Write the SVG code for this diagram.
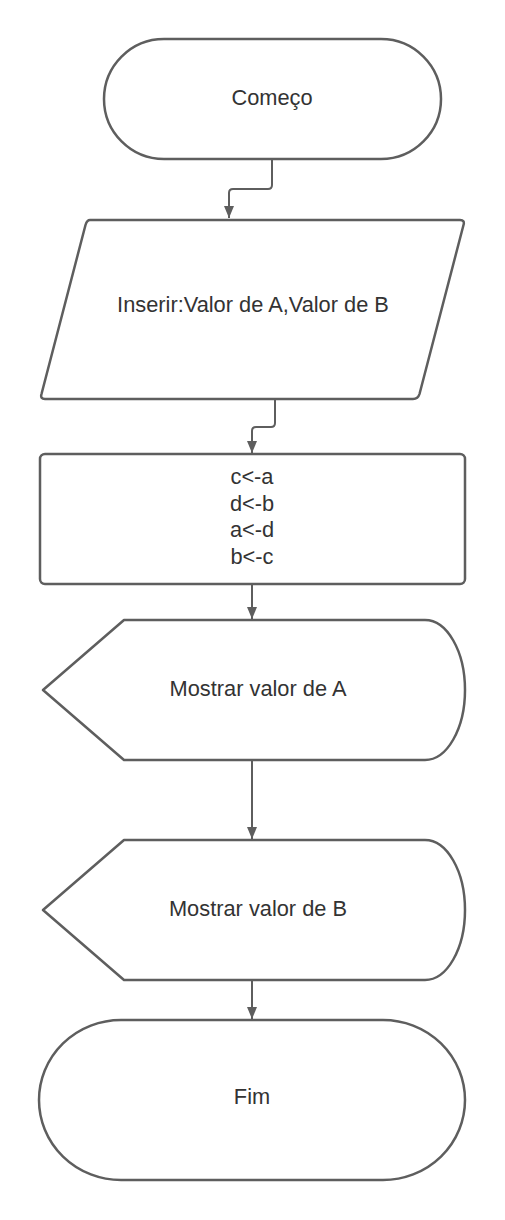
<svg xmlns="http://www.w3.org/2000/svg" width="505" height="1220" viewBox="0 0 505 1220">
<style>
.shape{fill:#ffffff;stroke:#5e5e5e;stroke-width:2.5;stroke-linejoin:round}
.edge{fill:none;stroke:#5e5e5e;stroke-width:2}
.lbl{font-family:"Liberation Sans",Arial,sans-serif;font-size:21.8px;fill:#333333;text-anchor:middle}
</style>
<defs>
<marker id="arr" viewBox="0 0 12 10" refX="12" refY="5" markerWidth="12" markerHeight="10" markerUnits="userSpaceOnUse" orient="auto">
<path d="M0,0 L12,5 L0,10 Z" fill="#5e5e5e"/>
</marker>
</defs>
<rect width="505" height="1220" fill="#ffffff"/>
<g id="connectors">
<path class="edge" d="M272,159 V185 Q272,189 268,189 H233 Q229,189 229,193 V218" marker-end="url(#arr)"/>
<path class="edge" d="M275,400 V423 Q275,427 271,427 H256 Q252,427 252,431 V453" marker-end="url(#arr)"/>
<path class="edge" d="M252,585 V619" marker-end="url(#arr)"/>
<path class="edge" d="M252,761 V839" marker-end="url(#arr)"/>
<path class="edge" d="M252,980 V1019" marker-end="url(#arr)"/>
</g>
<g id="inicio">
<rect class="shape" x="104" y="39" width="337" height="120" rx="60" ry="60"/>
<text class="lbl" x="272" y="105">Começo</text>
</g>
<g id="entrada">
<path class="shape" d="M90,220 H460 Q465,220 463.5,225 L419.5,394 Q418,399 413,399 H45 Q40,399 41.5,394 L85.5,225 Q87,220 90,220 Z"/>
<text class="lbl" x="253" y="312">Inserir:Valor de A,Valor de B</text>
</g>
<g id="processo">
<rect class="shape" x="40" y="454" width="425" height="130" rx="5" ry="5"/>
<text class="lbl" x="252" y="484">c&lt;-a</text>
<text class="lbl" x="252" y="510.5">d&lt;-b</text>
<text class="lbl" x="252" y="537">a&lt;-d</text>
<text class="lbl" x="252" y="563.5">b&lt;-c</text>
</g>
<g id="mostrarA">
<path class="shape" d="M124,620 H425 A40,70 0 0 1 425,760 H124 L43,690 Z"/>
<text class="lbl" x="258" y="696">Mostrar valor de A</text>
</g>
<g id="mostrarB">
<path class="shape" d="M124,840 H425 A40,70 0 0 1 425,980 H124 L43,910 Z"/>
<text class="lbl" x="258" y="916">Mostrar valor de B</text>
</g>
<g id="fim">
<rect class="shape" x="39" y="1020" width="426" height="160" rx="82" ry="80"/>
<text class="lbl" x="252" y="1104">Fim</text>
</g>
</svg>
